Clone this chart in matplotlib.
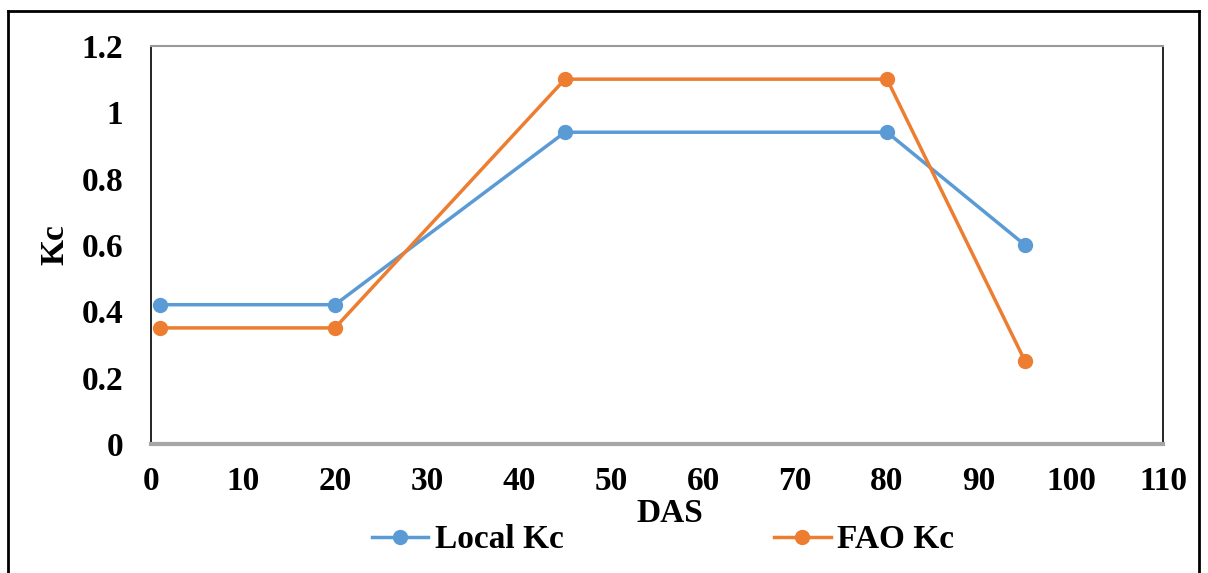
"""Local vs FAO crop coefficient (Kc) over days after sowing."""

import matplotlib.pyplot as plt
from matplotlib.lines import Line2D

das = [1, 20, 45, 80, 95]
local_kc = [0.42, 0.42, 0.94, 0.94, 0.60]
fao_kc = [0.35, 0.35, 1.10, 1.10, 0.25]

x_ticks = list(range(0, 111, 10))
y_ticks = [0, 0.2, 0.4, 0.6, 0.8, 1, 1.2]
y_tick_labels = ["0", "0.2", "0.4", "0.6", "0.8", "1", "1.2"]

BLUE = "#5B9BD5"
ORANGE = "#ED7D31"

plt.rcParams["font.family"] = ["Liberation Serif", "DejaVu Serif"]
plt.rcParams["font.weight"] = "bold"

W, H = 1208, 573
FS = 24
fig = plt.figure(figsize=(W / 100, H / 100), dpi=100)
ax = fig.add_axes([151 / W, 1 - 444 / H, (1163 - 151) / W, (444 - 46) / H])

ax.plot(das, local_kc, color=BLUE, lw=2.5, marker="o", ms=10, label="Local Kc")
ax.plot(das, fao_kc, color=ORANGE, lw=2.5, marker="o", ms=10, label="FAO Kc")

ax.set_xlim(0, 110)
ax.set_ylim(0, 1.2)
ax.set_xticks(x_ticks)
ax.set_yticks(y_ticks)
ax.set_yticklabels(y_tick_labels)
ax.tick_params(length=0, labelsize=FS)
ax.tick_params(axis="y", pad=20)
ax.tick_params(axis="x", pad=16)
for lab in ax.get_xticklabels() + ax.get_yticklabels():
    lab.set_fontweight("bold")

for side in ("left", "right"):
    ax.spines[side].set_color("black")
    ax.spines[side].set_linewidth(1.2)
ax.spines["top"].set_color("#999999")
ax.spines["top"].set_linewidth(1.5)
ax.spines["bottom"].set_color("#A6A6A6")
ax.spines["bottom"].set_linewidth(3)

fig.text(670 / W, 1 - 513 / H, "DAS", ha="center", va="center",
         fontsize=FS, fontweight="bold")
fig.text(55 / W, 1 - 245 / H, "Kc", ha="center", va="center",
         rotation=90, fontsize=FS, fontweight="bold")

handles = [
    Line2D([], [], color=BLUE, lw=2.5, marker="o", ms=10),
    Line2D([], [], color=ORANGE, lw=2.5, marker="o", ms=10),
]
fig.legend(handles, ["Local Kc", "FAO Kc"], loc="center",
           bbox_to_anchor=(663 / W, 1 - 540 / H), ncol=2, frameon=False,
           prop={"size": FS, "weight": "bold"}, columnspacing=6.3,
           handlelength=1.7, handletextpad=0.2)

# outer frame around the chart
frame_kw = dict(color="black", lw=2, transform=fig.transFigure)
fig.add_artist(Line2D([8 / W, 8 / W], [0, 1 - 11 / H], **frame_kw))
fig.add_artist(Line2D([8 / W, 1199 / W], [1 - 11 / H, 1 - 11 / H], **frame_kw))
fig.add_artist(Line2D([1199 / W, 1199 / W], [0, 1 - 11 / H], **frame_kw))

fig.savefig("out.png", dpi=100)
